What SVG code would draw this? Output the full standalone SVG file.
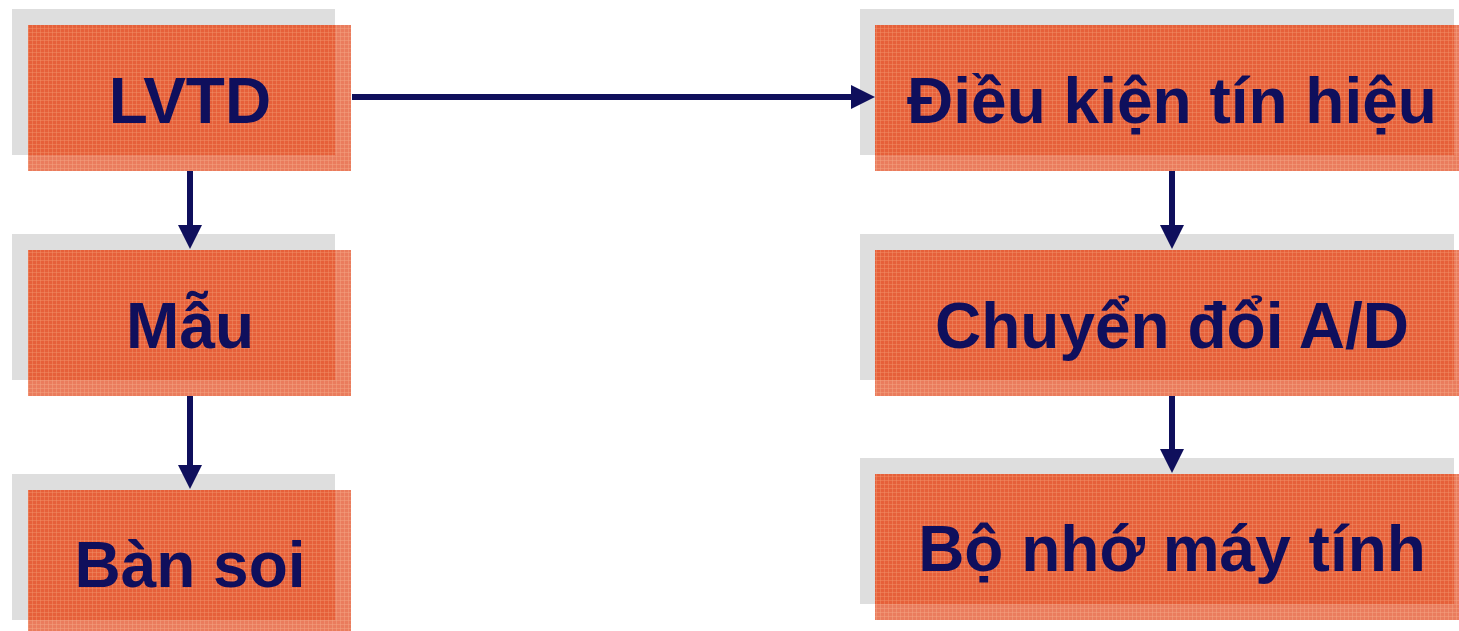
<svg xmlns="http://www.w3.org/2000/svg" width="1459" height="631" viewBox="0 0 1459 631">
<defs>
<style>
.shadow{fill:#DEDEDE}
.box{fill:#E6603A}
.grid{fill:url(#grid)}
.edge{fill:#FFFFFF;fill-opacity:0.18}
.lbl{font-family:"Liberation Sans",Arial,sans-serif;font-weight:bold;font-size:64px;fill:#0F0F5C;text-anchor:middle}
.conn{stroke:#0F0F5C;stroke-width:6;fill:none}
</style>
<pattern id="grid" width="4" height="4" patternUnits="userSpaceOnUse">
<path d="M0 0.5H4M0.5 0V4" stroke="#F2926A" stroke-width="1" stroke-opacity="0.45" fill="none"/>
</pattern>
<marker id="ah" viewBox="0 0 10 10" refX="0" refY="5" markerWidth="4" markerHeight="4" orient="auto" markerUnits="strokeWidth">
<path d="M0 0L10 5L0 10Z" fill="#0F0F5C"/>
</marker>
</defs>
<rect width="1459" height="631" fill="#FFFFFF"/>

<g id="lvtd">
<rect class="shadow" x="12" y="9" width="323" height="146"/>
<rect class="box" x="28" y="25" width="323" height="146"/>
<rect class="grid" x="28" y="25" width="323" height="146"/>
<path class="edge" d="M335 25H351V171H28V155H335Z"/>
<text class="lbl" x="190" y="123">LVTD</text>
</g>

<g id="mau">
<rect class="shadow" x="12" y="234" width="323" height="146"/>
<rect class="box" x="28" y="250" width="323" height="146"/>
<rect class="grid" x="28" y="250" width="323" height="146"/>
<path class="edge" d="M335 250H351V396H28V380H335Z"/>
<text class="lbl" x="190" y="348">Mẫu</text>
</g>

<g id="ban-soi">
<rect class="shadow" x="12" y="474" width="323" height="146"/>
<rect class="box" x="28" y="490" width="323" height="146"/>
<rect class="grid" x="28" y="490" width="323" height="146"/>
<path class="edge" d="M335 490H351V636H28V620H335Z"/>
<text class="lbl" x="190" y="587">Bàn soi</text>
</g>

<g id="dieu-kien">
<rect class="shadow" x="860" y="9" width="594" height="146"/>
<rect class="box" x="875" y="25" width="594" height="146"/>
<rect class="grid" x="875" y="25" width="594" height="146"/>
<path class="edge" d="M1454 25H1469V171H875V155H1454Z"/>
<text class="lbl" x="1172" y="123">Điều kiện tín hiệu</text>
</g>

<g id="chuyen-doi">
<rect class="shadow" x="860" y="234" width="594" height="146"/>
<rect class="box" x="875" y="250" width="594" height="146"/>
<rect class="grid" x="875" y="250" width="594" height="146"/>
<path class="edge" d="M1454 250H1469V396H875V380H1454Z"/>
<text class="lbl" x="1172" y="348">Chuyển đổi A/D</text>
</g>

<g id="bo-nho">
<rect class="shadow" x="860" y="458" width="594" height="146"/>
<rect class="box" x="875" y="474" width="594" height="146"/>
<rect class="grid" x="875" y="474" width="594" height="146"/>
<path class="edge" d="M1454 474H1469V620H875V604H1454Z"/>
<text class="lbl" x="1172" y="571">Bộ nhớ máy tính</text>
</g>

<g id="connectors">
<line class="conn" x1="352" y1="97" x2="851" y2="97" marker-end="url(#ah)"/>
<line class="conn" x1="190" y1="171" x2="190" y2="225" marker-end="url(#ah)"/>
<line class="conn" x1="190" y1="396" x2="190" y2="465" marker-end="url(#ah)"/>
<line class="conn" x1="1172" y1="171" x2="1172" y2="225" marker-end="url(#ah)"/>
<line class="conn" x1="1172" y1="396" x2="1172" y2="449" marker-end="url(#ah)"/>
</g>
</svg>
